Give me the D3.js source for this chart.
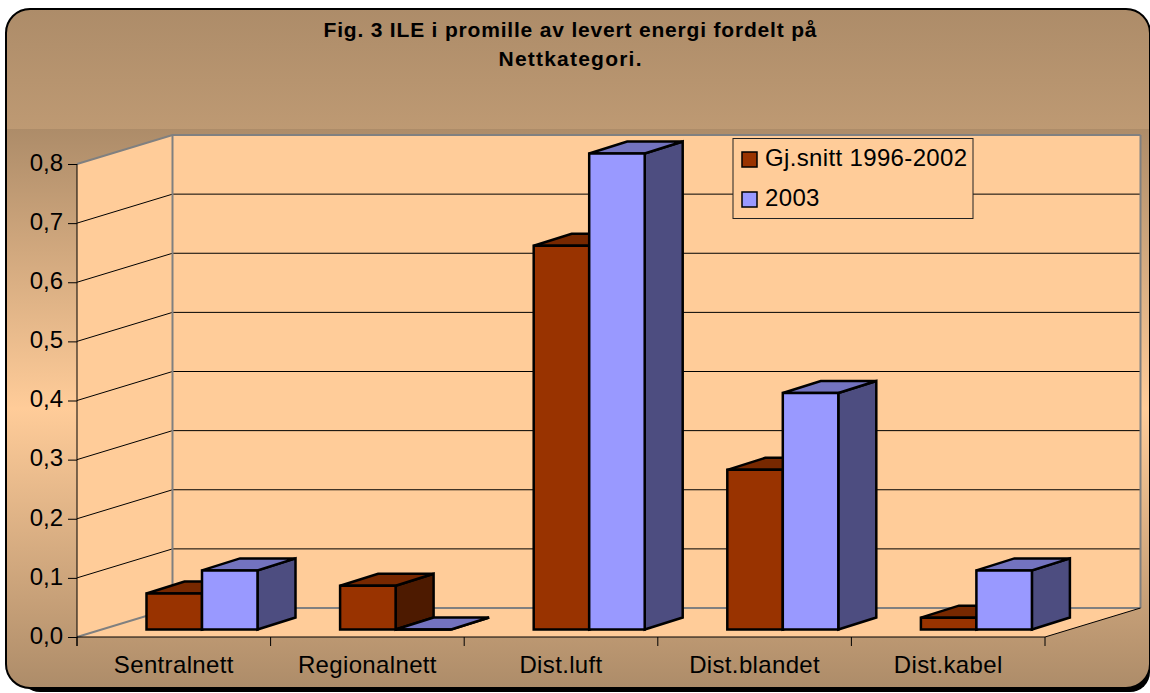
<!DOCTYPE html>
<html>
<head>
<meta charset="utf-8">
<script src="https://cdn.jsdelivr.net/npm/d3@7"></script>
<style>
    html, body { margin: 0; padding: 0; background: #fff; overflow: hidden; }
    svg { display: block; font-family: "Liberation Sans", Arial, sans-serif; }
</style>
</head>
<body>
<div id="chart"></div>
<script>
const categories = ["Sentralnett", "Regionalnett", "Dist.luft", "Dist.blandet", "Dist.kabel"];
const seriesNames = ["Gj.snitt 1996-2002", "2003"];
const snitt = [0.061, 0.074, 0.649, 0.27, 0.02];
const aar2003 = [0.1, 0, 0.805, 0.4, 0.1];
const yTicks = [0, 0.1, 0.2, 0.3, 0.4, 0.5, 0.6, 0.7, 0.8];
const titleLines = ["Fig. 3 ILE i promille av levert energi fordelt på", "Nettkategori."];

const width = 1150, height = 693;
const plot = { left: 77, right: 1045, top: 164, bottom: 637 };
const wall = { dx: 95.5, dy: -29 };                 // front plane -> back wall
const bar = { width: 55.5, inset: 69.5, lift: 7.5, dx: 38, dy: -12 };
const titleWidths = [493, 143];
const colors = [
    { front: "#993300", top: "#772800", side: "#4d1a00" },
    { front: "#9999ff", top: "#7373bf", side: "#4d4d80" }
];

const svg = d3.select("#chart").append("svg")
    .attr("width", width)
    .attr("height", height);

const defs = svg.append("defs");

function gradient(id, stops) {
    const g = defs.append("linearGradient")
        .attr("id", id)
        .attr("x1", 0).attr("x2", 0)
        .attr("y1", 0).attr("y2", 1);
    stops.forEach(s => g.append("stop").attr("offset", s[0]).attr("stop-color", s[1]));
}
gradient("frameFill", [[0, "#ad8c69"], [0.5, "#dcb285"], [1, "#ad8c69"]]);
gradient("bandFill", [[0, "#ad8c69"], [0.5, "#ffcc99"], [1, "#ad8c69"]]);

defs.append("clipPath").attr("id", "frameClip")
    .append("rect")
    .attr("x", 6).attr("y", 9).attr("width", 1144).attr("height", 679).attr("rx", 24);

// frame
svg.append("rect")
    .attr("x", 5).attr("y", 8).attr("width", 1145).attr("height", 681).attr("rx", 25)
    .attr("fill", "#c4c4c4");
svg.append("rect")
    .attr("x", 20).attr("y", 20).attr("width", 1130).attr("height", 672).attr("rx", 20)
    .attr("fill", "#000");
svg.append("rect")
    .attr("x", 6).attr("y", 9).attr("width", 1144).attr("height", 679).attr("rx", 24)
    .attr("fill", "url(#frameFill)");
svg.append("rect")
    .attr("x", 6).attr("y", 129).attr("width", 1144).attr("height", 559)
    .attr("clip-path", "url(#frameClip)")
    .attr("fill", "url(#bandFill)");
svg.append("rect")
    .attr("x", 6).attr("y", 9).attr("width", 1144).attr("height", 679).attr("rx", 24)
    .attr("fill", "none")
    .attr("stroke", "#000")
    .attr("stroke-width", 2);

// title
svg.append("g").selectAll("text")
    .data(titleLines)
    .enter().append("text")
    .attr("x", 570)
    .attr("y", (d, i) => 37 + i * 29)
    .attr("text-anchor", "middle")
    .attr("font-size", 21)
    .attr("font-weight", "bold")
    .attr("fill", "#000")
    .attr("textLength", (d, i) => titleWidths[i])
    .attr("lengthAdjust", "spacing")
    .text(d => d);

const x = d3.scaleBand().domain(categories).range([plot.left, plot.right]);
const y = d3.scaleLinear().domain([0, 0.8]).range([plot.bottom, plot.top]);

// walls and floor
const backLeft = plot.left + wall.dx, backRight = plot.right + wall.dx;
const line = d3.line();

svg.append("path")
    .attr("d", line([[backLeft, y(0.8) + wall.dy], [backRight, y(0.8) + wall.dy], [backRight, y(0) + wall.dy], [backLeft, y(0) + wall.dy]]) + "Z")
    .attr("fill", "#ffcc99");
svg.append("path")
    .attr("d", line([[plot.left, y(0.8)], [backLeft, y(0.8) + wall.dy], [backLeft, y(0) + wall.dy], [plot.left, y(0)]]) + "Z")
    .attr("fill", "#ffcc99");
svg.append("path")
    .attr("d", line([[plot.left, y(0)], [backLeft, y(0) + wall.dy], [backRight, y(0) + wall.dy], [plot.right, y(0)]]) + "Z")
    .attr("fill", "#ffcc99");

// grid
const grid = svg.append("g").attr("fill", "none");
yTicks.forEach(t => {
    const edge = t === 0 || t === 0.8;
    grid.append("path")
        .attr("d", line([[plot.left, y(t)], [backLeft, y(t) + wall.dy], [backRight, y(t) + wall.dy]]))
        .attr("stroke", edge ? "#808080" : "#000")
        .attr("stroke-width", edge ? 2 : 1);
});
grid.append("path")
    .attr("d", line([[backLeft, y(0.8) + wall.dy], [backLeft, y(0) + wall.dy]]))
    .attr("stroke", "#808080").attr("stroke-width", 2);
grid.append("path")
    .attr("d", line([[backRight, y(0.8) + wall.dy], [backRight, y(0) + wall.dy]]))
    .attr("stroke", "#808080").attr("stroke-width", 2);
grid.append("path")
    .attr("d", line([[plot.right, y(0)], [backRight, y(0) + wall.dy]]))
    .attr("stroke", "#000").attr("stroke-width", 1);

// bars
const seriesValues = [snitt, aar2003];
categories.forEach((cat, c) => {
    seriesValues.forEach((values, s) => {
        const left = x(cat) + bar.inset + s * bar.width;
        const right = left + bar.width;
        const base = y(0) - bar.lift;
        const top = y(values[c]) - bar.lift;
        const g = svg.append("g")
            .attr("stroke", "#000")
            .attr("stroke-width", 2.5)
            .attr("stroke-linejoin", "miter");
        g.append("path")
            .attr("fill", colors[s].side)
            .attr("d", line([[right, top], [right + bar.dx, top + bar.dy], [right + bar.dx, base + bar.dy], [right, base]]) + "Z");
        g.append("path")
            .attr("fill", colors[s].top)
            .attr("d", line([[left, top], [left + bar.dx, top + bar.dy], [right + bar.dx, top + bar.dy], [right, top]]) + "Z");
        g.append("path")
            .attr("fill", colors[s].front)
            .attr("d", line([[left, top], [right, top], [right, base], [left, base]]) + "Z");
    });
});

// axes
const yAxis = svg.append("g")
    .attr("transform", `translate(${plot.left},0)`)
    .call(d3.axisLeft(y).tickValues(yTicks).tickSize(9).tickPadding(5)
        .tickFormat(d => d3.format(".1f")(d).replace(".", ",")));
yAxis.select(".domain").attr("d", line([[0, y(0.8)], [0, y(0) + 9]])).attr("stroke", "#000");
yAxis.selectAll("text")
    .attr("font-size", 24)
    .attr("font-family", "Liberation Sans")
    .attr("fill", "#000")
    .attr("dy", "0.26em");

const xAxis = svg.append("g")
    .attr("transform", `translate(0,${plot.bottom})`)
    .call(d3.axisBottom(x).tickSize(0).tickPadding(19));
xAxis.select(".domain").attr("d", line([[plot.left, 0], [plot.right, 0]])).attr("stroke", "#000");
xAxis.selectAll("text")
    .attr("font-size", 24)
    .attr("font-family", "Liberation Sans")
    .attr("letter-spacing", 0.35)
    .attr("fill", "#000");
xAxis.selectAll(".sep")
    .data(categories.concat(["end"]))
    .enter().append("line")
    .attr("class", "sep")
    .attr("x1", (d, i) => plot.left + i * x.step())
    .attr("x2", (d, i) => plot.left + i * x.step())
    .attr("y1", 0)
    .attr("y2", 9)
    .attr("stroke", "#000");

// legend
const legend = svg.append("g").attr("transform", "translate(733,138.5)");
legend.append("rect")
    .attr("width", 240).attr("height", 80)
    .attr("fill", "#ffcc99")
    .attr("stroke", "#222");
const items = legend.selectAll(".item")
    .data(seriesNames)
    .enter().append("g")
    .attr("class", "item")
    .attr("transform", (d, i) => `translate(9,${13.5 + i * 40})`);
items.append("rect")
    .attr("width", 15).attr("height", 15)
    .attr("fill", (d, i) => colors[i].front)
    .attr("stroke", "#000")
    .attr("stroke-width", 1.5);
items.append("text")
    .attr("x", 23)
    .attr("y", 14)
    .attr("font-size", 24)
    .attr("letter-spacing", 0.35)
    .attr("fill", "#000")
    .text(d => d);
</script>
</body>
</html>
